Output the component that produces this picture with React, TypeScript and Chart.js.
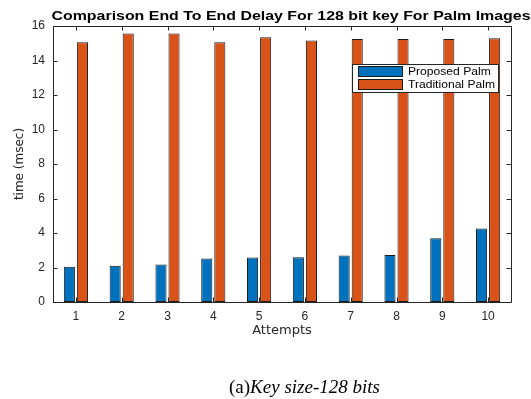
import React, { useEffect, useRef } from "react";
import { Chart, registerables } from "chart.js";

Chart.register(...registerables);

const categories = ["1", "2", "3", "4", "5", "6", "7", "8", "9", "10"];
const proposedPalm = [2.05, 2.1, 2.18, 2.52, 2.58, 2.6, 2.7, 2.72, 3.7, 4.26];
const traditionalPalm = [15.06, 15.56, 15.56, 15.06, 15.35, 15.16, 15.25, 15.25, 15.25, 15.29];
const seriesNames = ["Proposed Palm", "Traditional Palm"];
const seriesColors = ["#0072BD", "#D95319"];
const yMin = 0;
const yMax = 16;
const yStep = 2;
const titleText = "Comparison End To End Delay For 128 bit key For Palm Images";
const xTitle = "Attempts";
const yTitle = "time (msec)";
const captionLabel = "(a)";
const captionText = "Key size-128 bits";

const SANS = "'Liberation Sans', Arial, Helvetica, sans-serif";
const WIDE = "'DejaVu Sans', 'Liberation Sans', sans-serif";
const SERIF = "'Liberation Serif', 'Times New Roman', serif";
const AXIS_COLOR = "#262626";

const framePlugin = {
  id: "matlabFrame",
  afterDatasetsDraw(chart: any) {
    const ctx = chart.ctx as CanvasRenderingContext2D;
    const a = chart.chartArea;
    const xs = chart.scales.x;
    const ys = chart.scales.y;
    const tl = 4.5;
    ctx.save();
    ctx.strokeStyle = AXIS_COLOR;
    ctx.lineWidth = 1;
    ctx.beginPath();
    ctx.rect(Math.round(a.left) + 0.5, Math.round(a.top) + 0.5, Math.round(a.right - a.left), Math.round(a.bottom - a.top));
    xs.ticks.forEach((_: any, i: number) => {
      const px = Math.round(xs.getPixelForTick(i)) + 0.5;
      ctx.moveTo(px, a.bottom);
      ctx.lineTo(px, a.bottom - tl);
      ctx.moveTo(px, a.top);
      ctx.lineTo(px, a.top + tl);
    });
    ys.ticks.forEach((t: any) => {
      const py = Math.round(ys.getPixelForValue(t.value)) + 0.5;
      ctx.moveTo(a.left, py);
      ctx.lineTo(a.left + tl, py);
      ctx.moveTo(a.right, py);
      ctx.lineTo(a.right - tl, py);
    });
    ctx.stroke();
    ctx.restore();
  },
  afterDraw(chart: any) {
    const ctx = chart.ctx as CanvasRenderingContext2D;
    ctx.save();
    // Title
    ctx.font = `bold 12px ${SANS}`;
    ctx.fillStyle = "#000";
    ctx.textBaseline = "middle";
    ctx.textAlign = "center";
    const tw = ctx.measureText(titleText).width;
    const sx = 479 / tw;
    ctx.save();
    ctx.translate(291, 17);
    ctx.scale(sx, 1);
    ctx.fillText(titleText, 0, 0);
    ctx.restore();

    // Legend
    const lx = 352.5, ly = 64.5, lw = 146, lh = 28;
    ctx.fillStyle = "#fff";
    ctx.fillRect(lx, ly, lw, lh);
    ctx.strokeStyle = AXIS_COLOR;
    ctx.lineWidth = 1;
    ctx.strokeRect(lx, ly, lw, lh);
    const rows = [71.5, 84.5];
    chart.data.datasets.forEach((ds: any, i: number) => {
      const cy = rows[i];
      ctx.fillStyle = ds.backgroundColor;
      ctx.fillRect(358.5, cy - 5, 44, 10);
      ctx.strokeStyle = "#1a1a1a";
      ctx.strokeRect(358.5, cy - 5, 44, 10);
      ctx.save();
      ctx.font = `11px ${SANS}`;
      ctx.fillStyle = "#000";
      ctx.textAlign = "left";
      ctx.textBaseline = "middle";
      ctx.translate(408, cy + 0.5);
      ctx.scale(1.1, 1);
      ctx.fillText(ds.label, 0, 0);
      ctx.restore();
    });

    // Caption
    ctx.fillStyle = "#000";
    ctx.textAlign = "left";
    ctx.textBaseline = "alphabetic";
    ctx.font = `19px ${SERIF}`;
    const cx0 = 229;
    const by = 393;
    ctx.fillText(captionLabel, cx0, by);
    const w1 = ctx.measureText(captionLabel).width;
    ctx.font = `italic 19px ${SERIF}`;
    ctx.fillText(captionText, cx0 + w1, by);
    ctx.restore();
  },
};

export default function App() {
  const ref = useRef<HTMLCanvasElement | null>(null);
  useEffect(() => {
    if (!ref.current) return;
    const chart = new Chart(ref.current, {
      type: "bar",
      data: {
        labels: categories,
        datasets: [
          {
            label: seriesNames[0],
            data: proposedPalm,
            backgroundColor: seriesColors[0],
            borderColor: "#1a1a1a",
            borderWidth: 1,
            borderSkipped: false,
            barPercentage: 0.85,
            categoryPercentage: 0.57,
          },
          {
            label: seriesNames[1],
            data: traditionalPalm,
            backgroundColor: seriesColors[1],
            borderColor: "#1a1a1a",
            borderWidth: 1,
            borderSkipped: false,
            barPercentage: 0.85,
            categoryPercentage: 0.57,
          },
        ],
      },
      options: {
        responsive: false,
        animation: false,
        devicePixelRatio: 1,
        layout: { padding: { left: 13, right: 20, top: 26, bottom: 61 } },
        plugins: {
          legend: { display: false },
          title: { display: false },
          tooltip: { enabled: false },
        },
        scales: {
          x: {
            grid: { display: false, drawTicks: false },
            border: { display: false },
            ticks: { font: { family: SANS, size: 12 }, color: AXIS_COLOR, padding: 7, maxRotation: 0 },
            title: { display: true, text: xTitle, font: { family: WIDE, size: 13 }, color: AXIS_COLOR, padding: 0 },
            afterFit: (s: any) => {
              s.height = 36;
            },
          },
          y: {
            min: yMin,
            max: yMax,
            grid: { display: false, drawTicks: false },
            border: { display: false },
            ticks: { stepSize: yStep, font: { family: SANS, size: 12 }, color: AXIS_COLOR, padding: 8 },
            title: { display: true, text: yTitle, font: { family: WIDE, size: 12 }, color: AXIS_COLOR, padding: 0 },
            afterFit: (s: any) => {
              s.width = 40;
            },
          },
        },
      },
      plugins: [framePlugin],
    });
    return () => chart.destroy();
  }, []);
  return (
    <div style={{ position: "fixed", left: 0, top: 0, width: 531, height: 399, background: "#fff" }}>
      <canvas ref={ref} width={531} height={399} style={{ display: "block" }} />
    </div>
  );
}
